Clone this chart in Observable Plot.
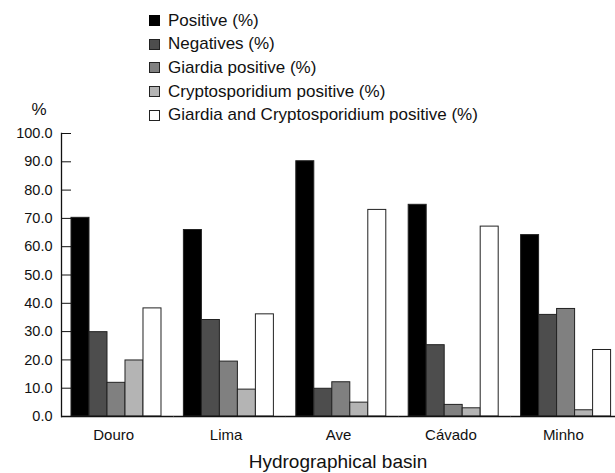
<!DOCTYPE html>
<html>
<head>
<meta charset="utf-8">
<script src="https://cdn.jsdelivr.net/npm/d3@7"></script>
<script src="https://cdn.jsdelivr.net/npm/@observablehq/plot@0.6"></script>
<style>
  html, body { margin: 0; padding: 0; background: #fff; overflow: hidden; }
  #wrap { position: relative; width: 615px; height: 473px; font-family: "Liberation Sans", Arial, Helvetica, sans-serif; color: #111; }
  #wrap svg { position: absolute; left: 0; top: 0; }
  #legend { position: absolute; left: 149px; top: 9px; }
  .row { display: flex; align-items: center; height: 23.6px; font-size: 17px; white-space: nowrap; }
  .sw { width: 11px; height: 11px; border: 1px solid #222; box-sizing: border-box; margin-right: 8px; flex: none; }
  #pct { position: absolute; left: 30px; top: 100px; font-size: 17px; line-height: 20px; width: 18px; text-align: center; }
  #xtitle { position: absolute; left: 61px; width: 554px; top: 452px; font-size: 19px; line-height: 20px; text-align: center; }
</style>
</head>
<body>
<div id="wrap">
  <div id="legend"></div>
  <div id="pct">%</div>
  <div id="xtitle">Hydrographical basin</div>
</div>
<script>
// Data
const basins = ["Douro", "Lima", "Ave", "Cávado", "Minho"];
const series = ["Positive (%)", "Negatives (%)", "Giardia positive (%)", "Cryptosporidium positive (%)", "Giardia and Cryptosporidium positive (%)"];
const positive = [70.2, 65.9, 90.2, 74.8, 64.1];
const negatives = [29.8, 34.1, 9.8, 25.2, 35.9];
const giardia = [11.9, 19.4, 12.1, 4.1, 38.0];
const crypto = [19.8, 9.5, 4.9, 2.9, 2.2];
const both = [38.2, 36.1, 73.0, 67.1, 23.5];
const yTicks = [0, 10, 20, 30, 40, 50, 60, 70, 80, 90, 100];
const fills = ["#000000", "#4d4d4d", "#808080", "#b4b4b4", "#ffffff"];

const valuesBySeries = [positive, negatives, giardia, crypto, both];
const table = basins.flatMap((b, i) => series.map((s, j) => ({basin: b, series: s, value: valuesBySeries[j][i]})));

// Legend (HTML, overlaid above the chart)
const legend = document.getElementById("legend");
series.forEach((s, j) => {
  const row = document.createElement("div");
  row.className = "row";
  const sw = document.createElement("div");
  sw.className = "sw";
  sw.style.background = fills[j];
  if (j === 0) sw.style.borderColor = "#000";
  const t = document.createElement("span");
  t.textContent = s;
  row.appendChild(sw);
  row.appendChild(t);
  legend.appendChild(row);
});

const chart = Plot.plot({
  width: 615,
  height: 473,
  marginLeft: 61,
  marginRight: 0,
  marginTop: 133,
  marginBottom: 57,
  style: {fontFamily: '"Liberation Sans", Arial, Helvetica, sans-serif', color: "#111", background: "transparent", overflow: "visible"},
  fx: {domain: basins, paddingInner: 0.0712, paddingOuter: 0, round: false, label: null},
  x: {domain: series, paddingInner: 0, paddingOuter: 0.4, align: 0.694, round: false, axis: null},
  y: {domain: [0, 100], label: null},
  color: {domain: series, range: fills},
  marks: [
    Plot.barY(table, {fx: "basin", x: "series", y: "value", fill: "series", stroke: "#222", strokeWidth: 1}),
    Plot.ruleY([0], {insetRight: -8.1, stroke: "#111", strokeWidth: 1.6}),
    Plot.frame({anchor: "left", facetAnchor: "left-empty", stroke: "#111", strokeWidth: 1.3}),
    Plot.axisY({ticks: yTicks, tickSize: -10, fill: "none", stroke: "#111", label: null}),
    Plot.axisY({ticks: yTicks, tickSize: 0, tickPadding: 9, tickFormat: d3.format(".1f"), fontSize: 14.5, label: null}),
    Plot.axisFx({anchor: "bottom", tickSize: 0, tickPadding: 13, fontSize: 15, label: null})
  ]
});
document.getElementById("wrap").prepend(chart);
</script>
</body>
</html>
